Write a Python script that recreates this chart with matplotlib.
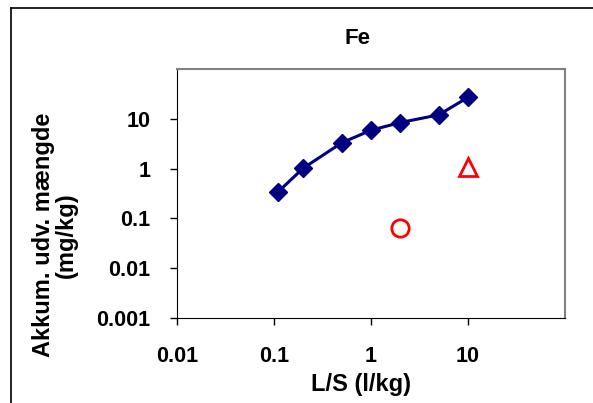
import matplotlib
matplotlib.use('Agg')
import matplotlib.pyplot as plt
from matplotlib.lines import Line2D
from matplotlib.ticker import FixedLocator, NullLocator

plt.rcParams['font.family'] = ['Liberation Sans', 'DejaVu Sans']
plt.rcParams['font.weight'] = 'bold'

ls = [0.11, 0.2, 0.5, 1, 2, 5, 10]
fe = [0.34, 1.02, 3.3, 5.9, 8.4, 12, 27]
circle_x = [2]
circle_y = [0.065]
tri_x = [10]
tri_y = [1.1]
xticks = [0.01, 0.1, 1, 10]
yticks = [0.001, 0.01, 0.1, 1, 10]

W, H = 593, 403
fig = plt.figure(figsize=(W / 100, H / 100), dpi=100)
ax = fig.add_axes([177 / W, 1 - 318 / H, (565 - 177) / W, (318 - 69) / H])

ax.plot(ls, fe, color='#000080', lw=2.2, marker='D', ms=9, clip_on=False)
ax.plot(circle_x, circle_y, ls='none', marker='o', ms=12.5, mfc='none',
        mec='#ff0000', mew=2)
ax.plot(tri_x, tri_y, ls='none', marker='^', ms=13.5, mfc='none',
        mec='#ff0000', mew=2)

ax.set_xscale('log')
ax.set_yscale('log')
ax.set_xlim(0.01, 100)
ax.set_ylim(0.001, 100)
ax.xaxis.set_major_locator(FixedLocator(xticks))
ax.yaxis.set_major_locator(FixedLocator(yticks))
ax.xaxis.set_minor_locator(NullLocator())
ax.yaxis.set_minor_locator(NullLocator())
ax.set_xticklabels(['0.01', '0.1', '1', '10'])
ax.set_yticklabels(['0.001', '0.01', '0.1', '1', '10'])
ax.tick_params(direction='out', length=5, width=1, labelsize=15.5)
ax.tick_params(axis='x', pad=15)
ax.tick_params(axis='y', pad=14)
for s in ['top', 'right']:
    ax.spines[s].set_color('#808080')
    ax.spines[s].set_linewidth(1.5)

fig.text(358 / W, 1 - 39 / H, 'Fe', ha='center', va='center', fontsize=16)
fig.text(361 / W, 1 - 384 / H, 'L/S (l/kg)', ha='center', va='center', fontsize=17)
fig.text(55 / W, 1 - 235 / H, 'Akkum. udv. mængde\n(mg/kg)', ha='center',
         va='center', rotation=90, fontsize=17, linespacing=0.95)

# chart-area frame (left and top edges visible)
fig.add_artist(Line2D([11 / W, 11 / W], [0, 1 - 8 / H], color='black', lw=1.2))
fig.add_artist(Line2D([11 / W, 1], [1 - 8 / H, 1 - 8 / H], color='black', lw=1.2))

fig.savefig('out.png', dpi=100)
